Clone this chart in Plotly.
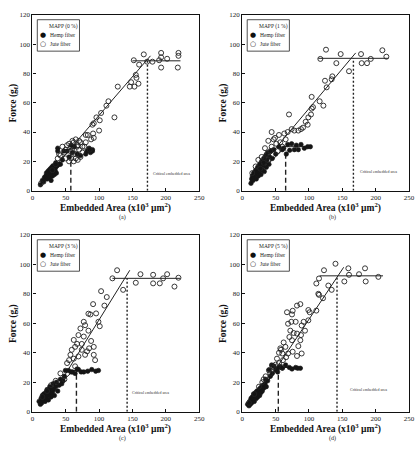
import plotly.graph_objects as go

# ---------------- data ----------------
captions = ["(a)", "(b)", "(c)", "(d)"]
mapp_labels = ["MAPP (0 %)", "MAPP (1 %)", "MAPP (3 %)", "MAPP (5 %)"]
x_ticks = [0, 50, 100, 150, 200, 250]
y_ticks = [0, 20, 40, 60, 80, 100, 120]

# panel (a)
hemp_a_x = [12,15,17,18,20,21,22,23,24,25,26,27,28,28,29,30,30,31,32,33,34,35,35,36,37,38,38,40,42,45,47,52,55,58,60,63,67,72,80,82,85,87,90,90]
hemp_a_y = [4,7,6,9,10,12,8,13,11,14,9,15,12,7,16,13,10,17,15,11,14,16,19,12,17,29,27,18,18,21,27,27,23,31,26,30,25,24,25,27,29,26,28,27]
jute_a_x = [13,30,35,38,40,42,45,48,50,50,52,55,55,57,58,58,60,60,62,62,64,65,65,67,68,68,70,70,72,72,75,75,78,80,80,83,86,88,90,91,92,92,96,100,101,103,111,114,123,128,146,148,153,155,156,159,152,160,167,172,180,190,193,193,193,202,219,219,218]
jute_a_y = [5,14,18,22,25,24,30,26,22,28,31,32,20,27,30,22,27,34,33,20,25,35,22,30,31,21,28,34,33,23,26,30,30,33,38,38,28,35,45,39,36,46,50,41,48,53,58,61,50,71,71,74,71,79,77,73,89,86,93,88,88,89,94,91,84,90,94,92,84]

# panel (b)
hemp_b_x = [13,14,15,16,17,18,19,20,21,22,23,24,25,26,27,28,29,30,31,32,33,34,35,36,37,38,40,41,43,45,47,50,55,60,62,66,68,71,74,78,81,84,88,93,98,102]
hemp_b_y = [5,8,10,7,12,9,11,14,8,12,16,10,13,18,15,11,20,14,17,22,13,19,24,16,21,26,18,23,27,22,28,25,30,28,29,25,31.5,27.5,32,28,31,28,31.5,29,30,30]
jute_b_x = [15,20,24,27,29,32,34,37,39,39,42,44,44,47,49,51,53,55,57,60,63,65,68,70,74,78,84,88,91,95,98,99,103,104,104,106,116,121.6,124,126.5,134,135,160,117,125.5,141,147.5,178,179,187,192.6,210,216]
jute_b_y = [12,16.5,21,15,23,19,29,25,34,21,27,30,40,35,36,32,27,38,33,30,39,35,40,52,42,41,41,42,43,47,45,50,52,64,56,57,61,58,75,70.5,76,78,81.5,89.9,96.2,87,93.2,93.2,87,87,89.9,95.8,91.4]

# panel (c)
hemp_c_x = [10,12,13,14,15,16,17,18,19,20,21,22,23,24,25,26,27,28,29,30,31,32,33,35,36,38,40,42,44,46,48,49.5,54,58,60,64,67,69,73,77,83,89,95,99]
hemp_c_y = [7,5,9,6,11,8,12,10,7,13,9,15,11,8,14,17,12,10,16,13,19,15,11,17,20,14,18,22,19,21,24,28,28,27,27,26,29,28.6,27,27,27.5,28.6,27.5,28]
jute_c_x = [15,22,28,35,42,48,52,55,57,59,62,62,64,64,67,69,69,72,74,74,77,77,79,79,82,84,84,85,88,87,91,92,92,94,95.5,99,101,103,108,111.5,120,127,136,155,162,181,181,191,196,202,213,219]
jute_c_y = [10,14,18,21,26,22,33,35,38.6,42,36,48.7,30.8,44,46,37.5,52,56.5,42,46,51,61,38.6,58.7,41,55,66.5,43,48,66,73,38.6,44,35,66.7,61,58,81.8,72,77.8,90.5,96,82.7,87.5,93.3,92.9,87.1,87.1,90.5,93.3,84.9,90.9]

# panel (d)
hemp_d_x = [8,10,11,12,13,14,15,16,17,18,19,20,21,22,23,24,25,26,27,28,29,30,31,32,34,35,36,38,40,42,44,45,47.5,50,53,55,57,60,65,70.6,74.5,80,83,87]
hemp_d_y = [5,4,7,5,9,6,10,8,12,7,11,13,9,14,10,12,15,11,16,13,17,14,18,16,19,22,17,21,28.4,24,31.7,26,31,28.4,27,30,30.6,29.5,31.7,30,29,30,29.5,29.5]
jute_d_x = [10,18,25,30,32,35,40,42,45,47,50,52,55,55,57,58,60,60,61,62,64.7,65.7,67,68.6,68.6,70.6,72,73.5,74.5,74.5,75.5,75.5,77,80,82,82,82,84,87,87,88,89,89,92,94,99,99,101,111,114,115,121,111,115,122.5,129,134,139.7,153,159,160,175,184,185,204]
jute_d_y = [6,12,17,20,22,24,28,26,31,30,32,36,33,40,43,42,39.5,30,35,47,44,37,67.5,59.7,39.5,50.7,55,61,48.5,66,40.7,68.5,53.4,61,53,37.8,72,44.5,73,48.5,52,58.5,39.5,61,55,62,69,67.5,68.6,80,79.3,77,87,90.4,96,85.6,82.7,100.4,88.4,97.3,92.9,93.3,97.3,88.4,91.5]

# fitted lines (rising segment end points, plateau spans and levels)
jute_rise_x = [[12, 177], [15, 170], [42, 146], [15, 152]]
jute_rise_y = [[5, 92], [10, 94], [20, 96], [5, 98]]
jute_plateau_x = [[150, 222], [114, 219], [120, 222], [116, 211]]
jute_plateau_y = [88.6, 90.3, 90.5, 92.2]
jute_critical = [172.5, 166.6, 142, 142]

hemp_rise_x = [None, [12, 65], [10, 62], [8, 55]]
hemp_rise_y = [None, [6, 30], [6, 28], [4, 30]]
hemp_plateau_x = [None, [62, 103], [55, 100], [45, 90]]
hemp_plateau_y = [None, 30, 28, 30]
hemp_critical = [57.6, 65, 66, 54]
hemp_critical_top = [25.5, 27.5, 28.5, 29]

critical_text_x = [178, 173.5, 146, 159]
critical_text_y = [12, 13, 13, 15]

hemp_x = [hemp_a_x, hemp_b_x, hemp_c_x, hemp_d_x]
hemp_y = [hemp_a_y, hemp_b_y, hemp_c_y, hemp_d_y]
jute_x = [jute_a_x, jute_b_x, jute_c_x, jute_d_x]
jute_y = [jute_a_y, jute_b_y, jute_c_y, jute_d_y]

# ---------------- layout geometry (pixels) ----------------
W, H = 417, 455
col_px = [(31, 201), (245, 415)]
row_px = [(11, 190), (235, 415)]
SERIF = "Liberation Serif"

fig = go.Figure()
annotations = []
shapes = []

def px_x(v):
    return v / W

def px_y(v):
    return 1 - v / H

def note(xp, yp, text, size, xanchor="center", **kw):
    annotations.append(dict(x=px_x(xp), y=px_y(yp), xref="paper", yref="paper",
                            text=text, showarrow=False, xanchor=xanchor, yanchor="middle",
                            font=dict(family=kw.pop("family", SERIF), size=size,
                                      color=kw.pop("color", "#222")), **kw))

layout_axes = {}
for i in range(4):
    r, c = divmod(i, 2)
    suf = "" if i == 0 else str(i + 1)
    xr, yr = "x" + suf, "y" + suf
    common = dict(showline=True, linecolor="#111", linewidth=1.2, mirror=True,
                  ticks="inside", ticklen=3, tickcolor="#111", showgrid=False,
                  zeroline=False, tickfont=dict(family=SERIF, size=7, color="#222"))
    layout_axes["xaxis" + suf] = dict(domain=[px_x(col_px[c][0]), px_x(col_px[c][1])],
                                      range=[0, 250], tickvals=x_ticks, anchor=yr, **common)
    layout_axes["yaxis" + suf] = dict(domain=[px_y(row_px[r][1]), px_y(row_px[r][0])],
                                      range=[0, 120], tickvals=y_ticks, anchor=xr, **common)

    # fitted lines
    fig.add_trace(go.Scatter(x=jute_rise_x[i], y=jute_rise_y[i], mode="lines",
                             line=dict(color="#222", width=1), xaxis=xr, yaxis=yr, showlegend=False))
    fig.add_trace(go.Scatter(x=jute_plateau_x[i], y=[jute_plateau_y[i]] * 2, mode="lines",
                             line=dict(color="#222", width=1), xaxis=xr, yaxis=yr, showlegend=False))
    fig.add_trace(go.Scatter(x=[jute_critical[i]] * 2, y=[0, jute_plateau_y[i]], mode="lines",
                             line=dict(color="#222", width=1.4, dash="2px,2px"), xaxis=xr, yaxis=yr, showlegend=False))
    if hemp_rise_x[i] is not None:
        fig.add_trace(go.Scatter(x=hemp_rise_x[i], y=hemp_rise_y[i], mode="lines",
                                 line=dict(color="#222", width=1), xaxis=xr, yaxis=yr, showlegend=False))
        fig.add_trace(go.Scatter(x=hemp_plateau_x[i], y=[hemp_plateau_y[i]] * 2, mode="lines",
                                 line=dict(color="#222", width=1), xaxis=xr, yaxis=yr, showlegend=False))
    fig.add_trace(go.Scatter(x=[hemp_critical[i]] * 2, y=[0, hemp_critical_top[i]], mode="lines",
                             line=dict(color="#222", width=1.4, dash="5px,3px"), xaxis=xr, yaxis=yr, showlegend=False))

    # points
    fig.add_trace(go.Scatter(x=hemp_x[i], y=hemp_y[i], mode="markers", name="Hemp fiber",
                             marker=dict(symbol="circle", size=4.5, color="#151515",
                                         line=dict(color="#151515", width=0.6)),
                             xaxis=xr, yaxis=yr, showlegend=False))
    fig.add_trace(go.Scatter(x=jute_x[i], y=jute_y[i], mode="markers", name="Jute fiber",
                             marker=dict(symbol="circle-open", size=5, color="#222",
                                         line=dict(color="#222", width=0.9)),
                             xaxis=xr, yaxis=yr, showlegend=False))

    # critical embedded area label
    annotations.append(dict(x=critical_text_x[i], y=critical_text_y[i], xref=xr, yref=yr,
                            text="Critical embedded area", showarrow=False, xanchor="left",
                            yanchor="middle", font=dict(family=SERIF, size=4, color="#333")))

    # legend box
    x0p = col_px[c][0] + 5
    y0p = row_px[r][0] + 5
    shapes.append(dict(type="rect", xref="paper", yref="paper",
                       x0=px_x(x0p), x1=px_x(x0p + 43), y0=px_y(y0p + 32), y1=px_y(y0p),
                       line=dict(color="#222", width=0.8), fillcolor="white"))
    note(x0p + 27, y0p + 7, mapp_labels[i], 5.5)
    note(x0p + 6, y0p + 16, "\u25cf", 7, family="DejaVu Sans", color="#111")
    note(x0p + 6, y0p + 25, "\u25cb", 7, family="DejaVu Sans", color="#111")
    note(x0p + 11, y0p + 16, "Hemp fiber", 5.5, xanchor="left")
    note(x0p + 11, y0p + 25, "Jute fiber", 5.5, xanchor="left")

    # axis titles and caption
    xc = (col_px[c][0] + col_px[c][1]) / 2
    note(xc, row_px[r][1] + 17.5, "<b>Embedded Area (x10<sup>3</sup> \u00b5m<sup>2</sup>)</b>", 9.5, color="#111")
    note(xc + 7, row_px[r][1] + 27, captions[i], 6)
    yc = (row_px[r][0] + row_px[r][1]) / 2
    note(col_px[c][0] - 19, yc, "<b>Force (g<sub>f</sub>)</b>", 9.5, textangle=-90, color="#111")

fig.update_layout(width=W, height=H, margin=dict(l=0, r=0, t=0, b=0),
                  paper_bgcolor="white", plot_bgcolor="white",
                  annotations=annotations, shapes=shapes, **layout_axes)

fig.write_html("out.html", config={"displayModeBar": False},
               post_script="document.body.style.margin='0px';document.body.style.overflow='hidden';")
